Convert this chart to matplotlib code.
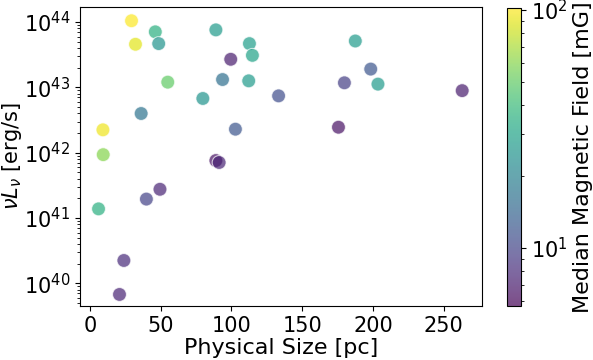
import numpy as np
import matplotlib.pyplot as plt
from matplotlib.colors import LogNorm

# physical size [pc], luminosity log10(nu L_nu), median field [mG]
size_pc = [29.4, 46.2, 32.2, 48.6, 89.0, 112.7, 114.8, 99.5, 55.0, 93.7,
           112.2, 79.8, 133.3, 36.2, 9.2, 102.8, 9.4, 89.0, 91.3, 49.5,
           39.9, 6.1, 24.0, 20.9, 187.5, 198.4, 179.8, 203.5, 263.0, 175.6]
log_lum = [44.02, 43.85, 43.66, 43.67, 43.88, 43.67, 43.49, 43.43, 43.08, 43.12,
           43.10, 42.83, 42.87, 42.60, 42.35, 42.36, 41.97, 41.88, 41.85, 41.44,
           41.29, 41.14, 40.35, 39.83, 43.71, 43.28, 43.07, 43.05, 42.95, 42.39]
b_field = [100, 35, 90, 25, 27, 28, 30, 7, 50, 16,
           27, 25, 11, 17, 95, 12, 60, 6.5, 7.5, 7.5,
           10, 35, 8, 7.5, 27, 12, 9.5, 27, 7, 6.5]

lum = 10 ** np.array(log_lum)

fig = plt.figure(figsize=(5.93, 3.6), dpi=100)
ax = fig.add_axes([80/593, 1 - 306/360, 402/593, 299/360])
cax = fig.add_axes([507/593, 1 - 306/360, 14/593, 298/360])

sc = ax.scatter(size_pc, lum, c=b_field, cmap='viridis',
                norm=LogNorm(vmin=5.7, vmax=102), s=100, alpha=0.7,
                edgecolors='w', linewidths=0.8)
ax.set_yscale('log')
ax.set_xlim(-7, 277)
ax.set_ylim(4.5e39, 1.7e44)
ax.set_xticks([0, 50, 100, 150, 200, 250])
ax.set_xlabel('Physical Size [pc]', fontsize=16, labelpad=2)
ax.set_ylabel(r'$\nu L_\nu$ [erg/s]', fontsize=15, labelpad=0)
ax.tick_params(labelsize=15)

cb = fig.colorbar(sc, cax=cax)
cb.set_label('Median Magnetic Field [mG]', fontsize=16)
cb.ax.tick_params(labelsize=15)

fig.savefig('out.png', dpi=100)
